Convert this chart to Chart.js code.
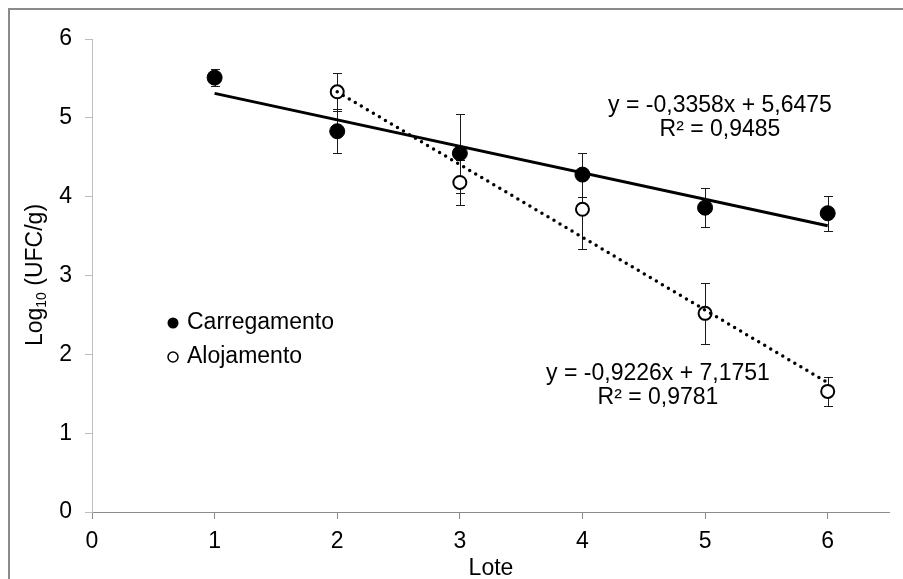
<!DOCTYPE html>
<html>
<head>
<meta charset="utf-8">
<script src="https://cdn.jsdelivr.net/npm/chart.js@4/dist/chart.umd.min.js"></script>
<style>
  html, body { margin: 0; padding: 0; background: #fff; }
  #wrap { width: 903px; height: 579px; }
</style>
</head>
<body>
<div id="wrap"><canvas id="grafico" width="903" height="579"></canvas></div>
<script>
// dados
const lotesCarreg = [1, 2, 3, 4, 5, 6];
const carregamento = [5.51, 4.83, 4.55, 4.28, 3.86, 3.79];
const carregamentoErr = [0.11, 0.28, 0.50, 0.28, 0.25, 0.22];

const lotesAloj = [2, 3, 4, 5, 6];
const alojamento = [5.33, 4.18, 3.84, 2.52, 1.53];
const alojamentoErr = [0.24, 0.29, 0.51, 0.39, 0.18];

// extremos das linhas de tendência
const tendCarregX = [1, 6];
const tendCarregY = [5.31, 3.63];
const tendAlojX = [2, 6];
const tendAlojY = [5.33, 1.64];

const eqCarreg = ['y = -0,3358x + 5,6475', 'R² = 0,9485'];
const eqAloj = ['y = -0,9226x + 7,1751', 'R² = 0,9781'];
const legendas = ['Carregamento', 'Alojamento'];

const FONTE = '"Liberation Sans", Arial, sans-serif';

function pontos(xs, ys) {
    return xs.map((x, i) => ({ x: x, y: ys[i] }));
}

// barras de erro (desenhadas por baixo dos marcadores)
const barrasErro = {
    id: 'barrasErro',
    beforeDatasetsDraw(chart) {
        const ctx = chart.ctx;
        const sx = chart.scales.x, sy = chart.scales.y;
        const series = [[lotesCarreg, carregamento, carregamentoErr], [lotesAloj, alojamento, alojamentoErr]];
        ctx.save();
        ctx.strokeStyle = '#1a1a1a';
        ctx.lineWidth = 1;
        series.forEach(([xs, ys, es]) => {
            xs.forEach((x, i) => {
                const px = Math.round(sx.getPixelForValue(x)) + 0.5;
                const top = Math.round(sy.getPixelForValue(ys[i] + es[i])) + 0.5;
                const bot = Math.round(sy.getPixelForValue(ys[i] - es[i])) + 0.5;
                ctx.beginPath();
                ctx.moveTo(px, top); ctx.lineTo(px, bot);
                ctx.moveTo(px - 4.5, top); ctx.lineTo(px + 4.5, top);
                ctx.moveTo(px - 4.5, bot); ctx.lineTo(px + 4.5, bot);
                ctx.stroke();
            });
        });
        ctx.restore();
    }
};

// moldura, títulos dos eixos, legenda e equações
const extras = {
    id: 'extras',
    afterDraw(chart) {
        const ctx = chart.ctx;
        ctx.save();
        // moldura externa
        ctx.strokeStyle = '#8a8a8a';
        ctx.lineWidth = 2;
        ctx.strokeRect(9, 9, 1000, 1000);

        ctx.fillStyle = '#000';
        ctx.textBaseline = 'middle';

        // título do eixo x
        ctx.font = '23px ' + FONTE;
        ctx.textAlign = 'center';
        ctx.fillText('Lote', 491, 569);

        // título do eixo y com subscrito
        ctx.save();
        ctx.translate(36, 275);
        ctx.rotate(-Math.PI / 2);
        const fGrande = '23px ' + FONTE, fPeq = '14px ' + FONTE;
        ctx.font = fGrande; const w1 = ctx.measureText('Log').width;
        ctx.font = fPeq; const w2 = ctx.measureText('10').width;
        ctx.font = fGrande; const w3 = ctx.measureText(' (UFC/g)').width;
        let x0 = -(w1 + w2 + w3) / 2;
        ctx.textAlign = 'left';
        ctx.font = fGrande; ctx.fillText('Log', x0, 0);
        ctx.font = fPeq; ctx.fillText('10', x0 + w1, 6);
        ctx.font = fGrande; ctx.fillText(' (UFC/g)', x0 + w1 + w2, 0);
        ctx.restore();

        // legenda
        ctx.font = '23px ' + FONTE;
        ctx.textAlign = 'left';
        ctx.beginPath();
        ctx.arc(173, 323, 5.5, 0, Math.PI * 2);
        ctx.fill();
        ctx.fillText(legendas[0], 187, 323);
        ctx.beginPath();
        ctx.arc(173, 357, 5, 0, Math.PI * 2);
        ctx.fillStyle = '#fff'; ctx.fill();
        ctx.lineWidth = 1.5; ctx.strokeStyle = '#000'; ctx.stroke();
        ctx.fillStyle = '#000';
        ctx.fillText(legendas[1], 187, 357);

        // equações das tendências
        ctx.textAlign = 'center';
        ctx.fillText(eqCarreg[0], 720, 106);
        ctx.fillText(eqCarreg[1], 720, 130);
        ctx.fillText(eqAloj[0], 658, 374);
        ctx.fillText(eqAloj[1], 658, 398);
        ctx.restore();
    }
};

const ctx = document.getElementById('grafico').getContext('2d');
const grafico = new Chart(ctx, {
    type: 'scatter',
    data: {
        datasets: [
            {
                label: 'Tendência Carregamento',
                data: pontos(tendCarregX, tendCarregY),
                showLine: true,
                borderColor: '#000',
                borderWidth: 3,
                pointRadius: 0,
                order: 1
            },
            {
                label: 'Tendência Alojamento',
                data: pontos(tendAlojX, tendAlojY),
                showLine: true,
                borderColor: '#000',
                borderWidth: 3.5,
                borderDash: [0, 7],
                borderCapStyle: 'round',
                pointRadius: 0,
                order: 1
            },
            {
                label: legendas[0],
                data: pontos(lotesCarreg, carregamento),
                backgroundColor: '#000',
                borderColor: '#000',
                pointRadius: 7.5,
                order: 2
            },
            {
                label: legendas[1],
                data: pontos(lotesAloj, alojamento),
                backgroundColor: '#fff',
                borderColor: '#000',
                borderWidth: 2,
                pointRadius: 6.5,
                order: 2
            }
        ]
    },
    options: {
        responsive: false,
        devicePixelRatio: 1,
        animation: false,
        layout: { padding: { top: 39, right: 14, left: 0, bottom: 0 } },
        plugins: { legend: { display: false }, tooltip: { enabled: false } },
        scales: {
            x: {
                type: 'linear', min: 0, max: 6.5,
                ticks: { stepSize: 1, color: '#000', font: { family: FONTE, size: 23 }, padding: 9 },
                grid: { drawOnChartArea: false, drawTicks: true, tickLength: 7, color: '#8c8c8c' },
                border: { color: '#8c8c8c' },
                afterBuildTicks: s => { s.ticks = s.ticks.filter(t => Number.isInteger(t.value)); },
                afterFit: s => { s.height = 67; }
            },
            y: {
                type: 'linear', min: 0, max: 6,
                ticks: { stepSize: 1, color: '#000', font: { family: FONTE, size: 23 }, padding: 13 },
                grid: { drawOnChartArea: false, drawTicks: true, tickLength: 7, color: '#bdbdbd' },
                border: { color: '#bdbdbd' },
                afterFit: s => { s.width = 92; }
            }
        }
    },
    plugins: [barrasErro, extras]
});
</script>
</body>
</html>
